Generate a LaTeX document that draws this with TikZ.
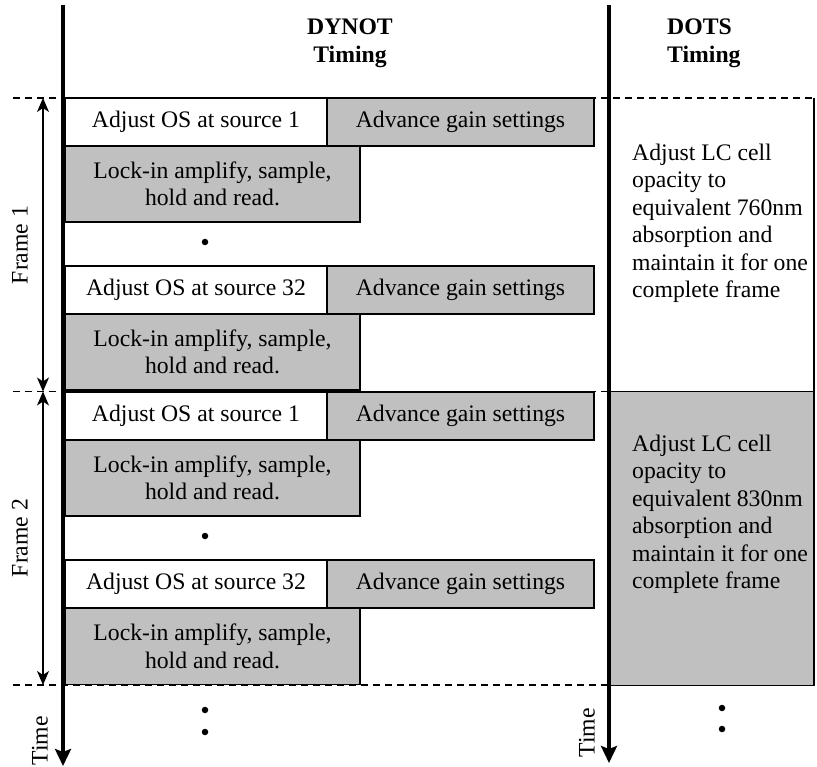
\documentclass[tikz,border=0pt]{standalone}
\usepackage{fontspec}
\setmainfont{Liberation Serif}
\usetikzlibrary{arrows.meta}
\definecolor{boxgray}{HTML}{C0C0C0}
\begin{document}
\begin{tikzpicture}[x=1pt,y=-1pt,
  txt/.style={font=\fontsize{23.7}{27.5}\selectfont},
  hdr/.style={font=\fontsize{23.7}{27.5}\selectfont\bfseries, inner sep=0pt},
  blk/.style={draw, line width=1.5pt, inner sep=0pt, align=center, txt},
  gry/.style={blk, fill=boxgray},
  wht/.style={blk, fill=white},
  adj/.style={wht, minimum width=262pt, minimum height=48pt},
  adv/.style={gry, minimum width=267pt, minimum height=48pt},
  lck/.style={gry, minimum width=295pt, minimum height=76pt},
  taxis/.style={line width=3.5pt, -{Stealth[length=17pt,width=16pt,inset=3pt]}},
  farrow/.style={line width=1.2pt, {Stealth[length=14pt,width=12pt,inset=4pt]}-{Stealth[length=14pt,width=12pt,inset=4pt]}},
  dsh/.style={line width=1.2pt, dash pattern=on 7pt off 5pt},
  dotmark/.style={circle, fill, inner sep=0pt, minimum size=6.5pt},
  dotstext/.style={txt, align=left, inner sep=0pt, anchor=north west}
]
\useasboundingbox (0,0) rectangle (817,767);

% headers
\node[hdr, align=center, anchor=north] (hdyn) at (350,19) {DYNOT\\Timing};
\node[hdr, align=left, anchor=north west] (hdots) at (667,19) {DOTS\\Timing};

% frame 1 boxes
\node[adj] (a1) at (196,122) {Adjust OS at source 1};
\node[adv] (g1) at (460.5,122) {Advance gain settings};
\node[lck] (l1) at (212.5,184) {Lock-in amplify, sample,\\hold and read.};
\node[dotmark] (d1) at (205,242) {};
\node[adj] (a2) at (196,290) {Adjust OS at source 32};
\node[adv] (g2) at (460.5,290) {Advance gain settings};
\node[lck] (l2) at (212.5,352) {Lock-in amplify, sample,\\hold and read.};

% frame 2 boxes
\node[adj] (a3) at (196,416) {Adjust OS at source 1};
\node[adv] (g3) at (460.5,416) {Advance gain settings};
\node[lck] (l3) at (212.5,478) {Lock-in amplify, sample,\\hold and read.};
\node[dotmark] (d2) at (205,536) {};
\node[adj] (a4) at (196,584) {Adjust OS at source 32};
\node[adv] (g4) at (460.5,584) {Advance gain settings};
\node[lck] (l4) at (212.5,646.5) {Lock-in amplify, sample,\\hold and read.};

% continuation dots
\node[dotmark] (d3) at (205,710) {};
\node[dotmark] (d4) at (205,732) {};
\node[dotmark] (d5) at (722,708) {};
\node[dotmark] (d6) at (722,729) {};

% DOTS boxes
\node[minimum width=205pt, minimum height=293.5pt, inner sep=0pt, fill=white] (dw) at (711.5,244.75) {};
\draw[line width=1.5pt] (dw.north east) -- (dw.south east);
\node[gry, minimum width=205pt, minimum height=294pt] (dg) at (711.5,538.5) {};
\node[dotstext] (t1) at (632,143.8) {Adjust LC cell\\opacity to\\equivalent 760nm\\absorption and\\maintain it for one\\complete frame};
\node[dotstext] (t2) at (632,434.8) {Adjust LC cell\\opacity to\\equivalent 830nm\\absorption and\\maintain it for one\\complete frame};

% dashed frame boundaries
\coordinate (b1l) at (13,98);   \coordinate (b1r) at (814,98);
\coordinate (b2l) at (13,391.5); \coordinate (b2r) at (609,391.5);
\coordinate (b3l) at (13,685);  \coordinate (b3r) at (609,685);
\draw[dsh] (b1l) -- (b1r);
\draw[dsh] (b2l) -- (b2r);
\draw[dsh] (b3l) -- (b3r);

% frame arrows
\coordinate (f1t) at (43,98); \coordinate (f1b) at (43,391.5);
\coordinate (f2t) at (43,391.5); \coordinate (f2b) at (43,685);
\draw[farrow] (f1t) -- (f1b);
\draw[farrow] (f2t) -- (f2b);
\node[txt, rotate=90] (fl1) at (20,245) {Frame 1};
\node[txt, rotate=90] (fl2) at (20,538) {Frame 2};

% time axes
\coordinate (lt) at (63,5); \coordinate (lb) at (63,766);
\coordinate (rt) at (609,5); \coordinate (rb) at (609,763);
\draw[taxis] (lt) -- (lb);
\draw[taxis] (rt) -- (rb);
\node[txt, rotate=90] (tm1) at (40,741) {Time};
\node[txt, rotate=90] (tm2) at (587,733) {Time};
\end{tikzpicture}
\end{document}
